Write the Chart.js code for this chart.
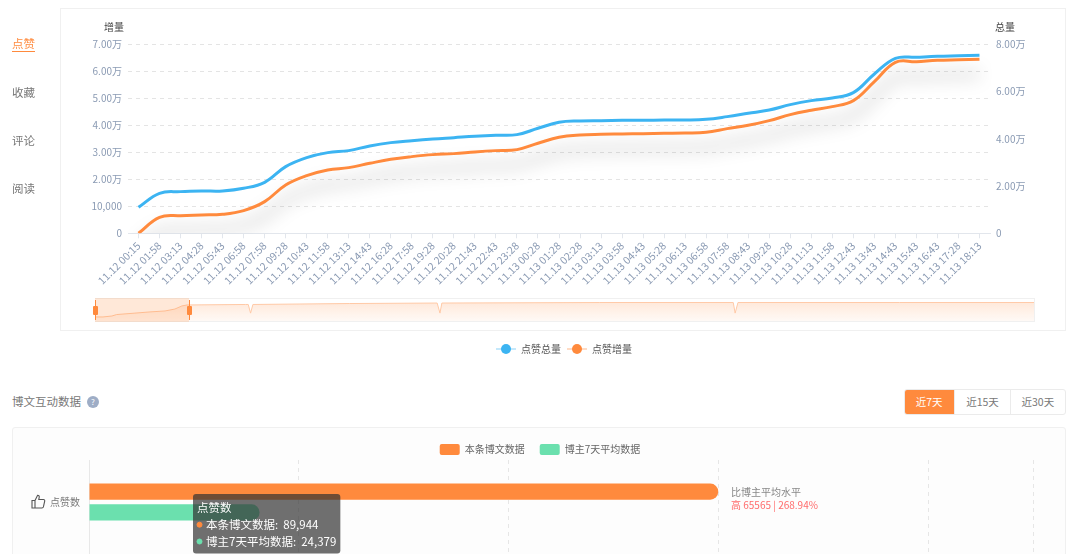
<!DOCTYPE html>
<html>
<head>
<meta charset="utf-8">
<script src="https://cdn.jsdelivr.net/npm/chart.js@4"></script>
<style>
    html, body { margin: 0; padding: 0; width: 1080px; height: 554px; overflow: hidden; background: #fff; }
    body { position: relative; font-family: "Noto Sans CJK SC", "Noto Sans", sans-serif; color: #666; }
    canvas { position: absolute; }
    .abs { position: absolute; white-space: nowrap; }
    .panel { position: absolute; box-sizing: border-box; border: 1px solid #f0f0f0; }
    .tab { left: 12px; font-size: 11.5px; line-height: 16px; color: #777; }
    .btns { left: 904px; top: 389px; width: 162px; height: 26px; box-sizing: border-box; border: 1px solid #ebebeb; border-radius: 3px; display: flex; font-size: 10.5px; line-height: 24px; text-align: center; color: #777; overflow: hidden; }
    .btns div { border-left: 1px solid #ebebeb; width: 55px; }
    .btns div.on { width: 51px; margin: -1px 0 -1px -1px; line-height: 26px; background: #ff8a3d; color: #fff; border: 0; }
    .handle { position: absolute; top: 300px; width: 1px; height: 20px; background: #ff8a3d; }
    .grip { position: absolute; top: 306px; width: 5px; height: 9px; background: #ff8a3d; border-radius: 1px; }
</style>
</head>
<body>
<div class="panel" style="left:60px;top:8px;width:1006px;height:323px"></div>
<div class="panel" style="left:12px;top:427px;width:1054px;height:160px;background:#fdfdfd;border-radius:3px"></div>

<canvas id="trendChart" style="left:0;top:0" width="1080" height="364"></canvas>
<canvas id="overviewChart" style="left:95px;top:298px" width="940" height="24"></canvas>
<canvas id="compareChart" style="left:0;top:429px" width="1080" height="214"></canvas>

<div class="abs" style="left:95px;top:298px;width:940px;height:24px;box-sizing:border-box;border:1px solid #f0f0f0;border-left:0"></div>
<div class="abs" style="left:95px;top:298px;width:94px;height:24px;background:rgba(255,138,61,.2)"></div>
<div class="handle" style="left:95px"></div><div class="grip" style="left:93px"></div>
<div class="handle" style="left:189px"></div><div class="grip" style="left:187px"></div>

<div class="abs" style="left:104px;top:20px;font-size:10px;line-height:14px;color:#444">增量</div>
<div class="abs" style="left:995px;top:20px;font-size:10px;line-height:14px;color:#444">总量</div>

<div class="abs tab" style="top:35px;color:#ff8a3d;border-bottom:1.5px solid #ff8a3d">点赞</div>
<div class="abs tab" style="top:84px">收藏</div>
<div class="abs tab" style="top:132px">评论</div>
<div class="abs tab" style="top:180px">阅读</div>

<div class="abs" style="left:12px;top:393px;font-size:11.5px;line-height:16px;color:#777">博文互动数据</div>
<div class="abs" style="left:87px;top:396px;width:12px;height:12px;border-radius:50%;background:#9eadc6;color:#fff;font-size:8px;line-height:12px;text-align:center">?</div>
<div class="abs btns"><div class="on">近7天</div><div>近15天</div><div>近30天</div></div>

<svg class="abs" style="left:31px;top:494px" width="15" height="15" viewBox="0 0 15 15" fill="none" stroke="#555" stroke-width="1.1">
    <path d="M1 6.5h3v7.5H1zM4 6.5l2.6-5.2c1.3 0 1.9.9 1.6 2.1L7.8 5.5h4.7c.9 0 1.4.8 1.2 1.6l-1.3 5.8c-.2.7-.7 1.1-1.4 1.1H4"/>
</svg>

<div class="abs" style="left:731px;top:485px;font-size:10px;line-height:14px;color:#888">比博主平均水平</div>
<div class="abs" style="left:731px;top:498px;font-size:10px;line-height:14px;color:#ff6b6b">高 65565 | 268.94%</div>

<script>
const timeLabels = [
    '11.12 00:15', '11.12 01:58', '11.12 03:13', '11.12 04:28', '11.12 05:43', '11.12 06:58', '11.12 07:58',
    '11.12 09:28', '11.12 10:43', '11.12 11:58', '11.12 13:13', '11.12 14:43', '11.12 16:28', '11.12 17:58',
    '11.12 19:28', '11.12 20:28', '11.12 21:43', '11.12 22:43', '11.12 23:28', '11.13 00:28', '11.13 01:28',
    '11.13 02:28', '11.13 03:13', '11.13 03:58', '11.13 04:43', '11.13 05:28', '11.13 06:13', '11.13 06:58',
    '11.13 07:58', '11.13 08:43', '11.13 09:28', '11.13 10:28', '11.13 11:13', '11.13 11:58', '11.13 12:43',
    '11.13 13:43', '11.13 14:43', '11.13 15:43', '11.13 16:43', '11.13 17:28', '11.13 18:13'
]
const totalValues = [
    11000, 16930, 17640, 17920, 17920, 19050, 21590, 28220, 32030, 34140, 34990, 36970, 38380, 39220,
    39930, 40490, 41060, 41480, 41760, 44440, 46980, 47550, 47690, 47830, 47830, 47970, 47970, 48250,
    49380, 50790, 52200, 54460, 56160, 57280, 59540, 67440, 74070, 74500, 74920, 75130, 75340
]
const deltaValues = [
    0, 5930, 6540, 6790, 7040, 8400, 11730, 17900, 21360, 23460, 24320, 25930, 27410, 28400,
    29140, 29510, 30120, 30620, 30990, 33330, 35560, 36420, 36670, 36790, 36910, 37040, 37160, 37410,
    38770, 40000, 41730, 43950, 45560, 46910, 49140, 56170, 63330, 63580, 64070, 64260, 64440
]

// overview strip under the chart: position along the strip (%) and relative height (%)
const overviewPositions = [0, 0.85, 1.8, 2.3, 4.25, 5.85, 7.45, 8.5, 9.25, 9.8, 16, 16.3, 16.55, 16.8, 21.8, 27.1, 36.4, 36.7, 36.9, 53.7, 67.9, 68.1, 68.4, 85.6, 100]
const overviewHeights = [21, 21, 25, 31, 37, 42, 46, 54, 67, 71, 73, 73, 37, 73, 75, 77, 79, 37, 79, 81, 81, 37, 81, 81, 81]

const compareCategories = ['点赞数', '']
const postValues = [89944, null]
const averageValues = [24379, null]
const compareTicks = [0, 30000, 60000, 90000, 120000, 135000]

const BLUE = '#3cb4f2'
const ORANGE = '#ff8a3d'
const GREEN = '#6be0ae'
const TICK_COLOR = '#8a9ab3'
const FONT = '"Noto Sans CJK SC", "Noto Sans", sans-serif'

function formatWan(value) {
    if (value === 0) return '0'
    if (value === 10000) return '10,000'
    return (value / 10000).toFixed(2) + '万'
}

// legend marker: short line with a dot on it
function legendMarker(color) {
    const c = document.createElement('canvas')
    c.width = 20
    c.height = 12
    const g = c.getContext('2d')
    g.fillStyle = color
    g.globalAlpha = 0.6
    g.fillRect(0, 5.5, 20, 1)
    g.globalAlpha = 1
    g.beginPath()
    g.arc(10, 6, 5, 0, Math.PI * 2)
    g.fill()
    return c
}

// soft grey shadow below the increment line
const lineShadow = {
    id: 'lineShadow',
    beforeDatasetDraw(chart, args) {
        if (args.index !== 1) return
        const ctx = chart.ctx
        ctx.save()
        ctx.shadowColor = 'rgba(0, 0, 0, 0.38)'
        ctx.shadowBlur = 18
        ctx.shadowOffsetY = 15
    },
    afterDatasetDraw(chart, args) {
        if (args.index === 1) chart.ctx.restore()
    }
}

new Chart(document.getElementById('trendChart'), {
    type: 'line',
    plugins: [lineShadow],
    data: {
        labels: timeLabels,
        datasets: [
            { label: '点赞总量', data: totalValues, yAxisID: 'total', borderColor: BLUE, backgroundColor: BLUE, borderWidth: 3, pointRadius: 0, tension: 0.4 },
            { label: '点赞增量', data: deltaValues, yAxisID: 'delta', borderColor: ORANGE, backgroundColor: ORANGE, borderWidth: 3, pointRadius: 0, tension: 0.4 }
        ]
    },
    options: {
        responsive: false,
        animation: false,
        events: [],
        layout: { padding: { top: 44.3, left: 48 } },
        scales: {
            x: {
                offset: true,
                afterFit: scale => { scale.height = 104.7 },
                border: { color: '#e2e6ec' },
                grid: { drawOnChartArea: false, color: '#e2e6ec', tickLength: 5 },
                ticks: { autoSkip: false, minRotation: 45, maxRotation: 45, padding: 1, color: TICK_COLOR, font: { family: FONT, size: 10.5 } }
            },
            delta: {
                position: 'left',
                min: 0,
                max: 70000,
                afterFit: scale => { scale.width = 80 },
                border: { display: false, dash: [4, 4] },
                grid: { color: '#e4e4e4', drawTicks: false },
                ticks: { stepSize: 10000, padding: 6, color: TICK_COLOR, font: { family: FONT, size: 10 }, callback: formatWan }
            },
            total: {
                position: 'right',
                min: 0,
                max: 80000,
                afterFit: scale => { scale.width = 90 },
                border: { display: false },
                grid: { display: false, drawTicks: false },
                ticks: { stepSize: 20000, padding: 6, color: TICK_COLOR, font: { family: FONT, size: 10 }, callback: formatWan }
            }
        },
        plugins: {
            tooltip: { enabled: false },
            legend: {
                position: 'bottom',
                labels: {
                    usePointStyle: true,
                    pointStyleWidth: 20,
                    padding: 6,
                    color: '#555',
                    font: { family: FONT, size: 10 },
                    generateLabels(chart) {
                        return Chart.defaults.plugins.legend.labels.generateLabels(chart).map(item => {
                            item.pointStyle = legendMarker(chart.data.datasets[item.datasetIndex].borderColor)
                            return item
                        })
                    }
                }
            }
        }
    }
})

new Chart(document.getElementById('overviewChart'), {
    type: 'line',
    data: {
        datasets: [{
            data: overviewPositions.map((x, i) => ({ x: x, y: overviewHeights[i] })),
            borderColor: '#ffc9a6',
            borderWidth: 1,
            pointRadius: 0,
            fill: 'start',
            backgroundColor(context) {
                const { ctx, chartArea } = context.chart
                if (!chartArea) return null
                const gradient = ctx.createLinearGradient(0, chartArea.top, 0, chartArea.bottom)
                gradient.addColorStop(0, 'rgba(255, 138, 61, 0.22)')
                gradient.addColorStop(1, 'rgba(255, 138, 61, 0.04)')
                return gradient
            }
        }]
    },
    options: {
        responsive: false,
        animation: false,
        events: [],
        scales: {
            x: { type: 'linear', min: 0, max: 100, display: false },
            y: { min: 0, max: 100, display: false }
        },
        plugins: { legend: { display: false }, tooltip: { enabled: false } }
    }
})

Chart.Tooltip.positioners.fixedBox = function () {
    return { x: 196, y: 65 }
}

const compareChart = new Chart(document.getElementById('compareChart'), {
    type: 'bar',
    data: {
        labels: compareCategories,
        datasets: [
            { label: '本条博文数据', data: postValues, backgroundColor: ORANGE, borderRadius: { topRight: 8, bottomRight: 8 }, borderSkipped: false, categoryPercentage: 0.495, barPercentage: 0.773 },
            { label: '博主7天平均数据', data: averageValues, backgroundColor: GREEN, borderRadius: { topRight: 8, bottomRight: 8 }, borderSkipped: false, categoryPercentage: 0.495, barPercentage: 0.773 }
        ]
    },
    options: {
        indexAxis: 'y',
        responsive: false,
        animation: false,
        events: [],
        layout: { padding: { left: 46.5, right: 46.5 } },
        scales: {
            x: {
                min: 0,
                max: 135000,
                afterBuildTicks: scale => { scale.ticks = compareTicks.map(value => ({ value })) },
                border: { display: false, dash: [4, 4] },
                grid: { color: '#e6e6e6', drawTicks: false },
                ticks: { display: false }
            },
            y: {
                afterFit: scale => { scale.width = 42.5 },
                border: { color: '#e8e8e8' },
                grid: { display: false, drawTicks: false },
                ticks: { padding: 9, color: '#777', font: { family: FONT, size: 10 } }
            }
        },
        plugins: {
            legend: {
                position: 'top',
                labels: { boxWidth: 20, boxHeight: 11, padding: 15, color: '#666', useBorderRadius: true, borderRadius: 2, font: { family: FONT, size: 10 } }
            },
            tooltip: {
                enabled: true,
                mode: 'index',
                position: 'fixedBox',
                xAlign: 'left',
                yAlign: 'top',
                caretSize: 0,
                caretPadding: 0,
                cornerRadius: 3,
                padding: { left: 4, right: 4, top: 7, bottom: 5 },
                backgroundColor: 'rgba(50, 50, 50, 0.7)',
                titleColor: '#fff',
                bodyColor: '#fff',
                titleFont: { family: FONT, size: 11.5, weight: 'normal' },
                bodyFont: { family: FONT, size: 11.5 },
                titleMarginBottom: 3,
                bodySpacing: 3,
                boxPadding: 2,
                usePointStyle: true,
                boxWidth: 5,
                boxHeight: 5,
                multiKeyBackground: 'rgba(0, 0, 0, 0)',
                callbacks: {
                    label: item => item.dataset.label + ':  ' + item.raw.toLocaleString('en-US'),
                    labelColor: item => ({ borderColor: item.dataset.backgroundColor, backgroundColor: item.dataset.backgroundColor }),
                    labelPointStyle: () => ({ pointStyle: 'circle', rotation: 0 })
                }
            }
        }
    }
})

// legend keeps its wide item gap but must not push the plot down
const legendFit = compareChart.legend.fit
compareChart.legend.fit = function () {
    legendFit.call(this)
    this.height = 31
}

compareChart.tooltip.setActiveElements([{ datasetIndex: 0, index: 0 }, { datasetIndex: 1, index: 0 }], { x: 260, y: 60 })
compareChart.update()
</script>
</body>
</html>
